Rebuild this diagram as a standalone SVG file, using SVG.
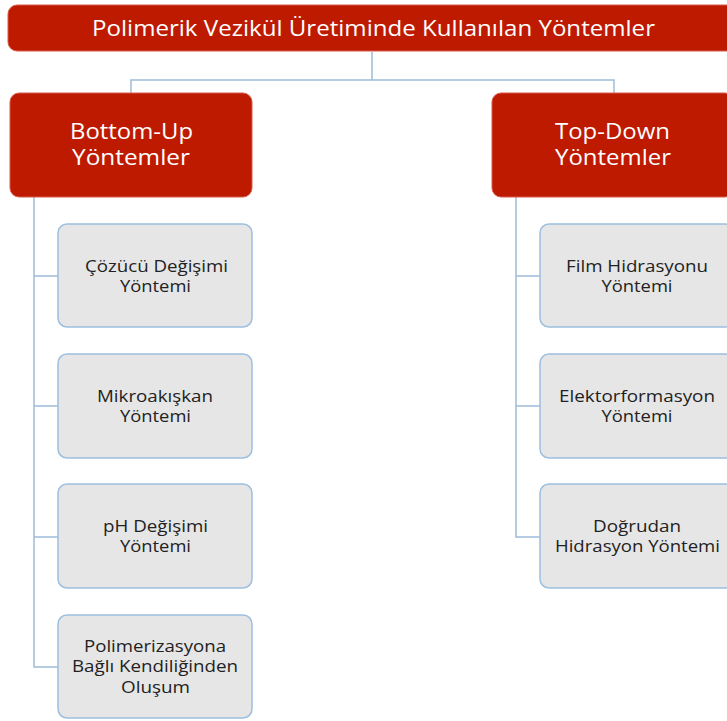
<svg xmlns="http://www.w3.org/2000/svg" width="727" height="721" viewBox="0 0 727 721">
<style>
.hdr{fill:#BE1A00;stroke:#d85a4a;stroke-width:1}
.child{fill:#E6E6E6;stroke:#9DBFDF;stroke-width:1.5}
.conn{fill:none;stroke:#9DBCDA;stroke-width:1.5}
.wt{font-family:"Open Sans",Lato,sans-serif;fill:#FFFFFF;text-anchor:middle}
.bt{font-family:"Open Sans",Lato,sans-serif;fill:#222222;font-size:16px;text-anchor:middle}
</style>
<rect width="727" height="721" fill="#FFFFFF"/>
<g id="connectors">
<path class="conn" d="M372 52V80M131 93V80H614V93"/>
<path class="conn" d="M34 197V667H58M34 276H58M34 406H58M34 537H58"/>
<path class="conn" d="M516 197V537H540M516 276H540M516 406H540"/>
</g>
<g id="title">
<rect class="hdr" x="8" y="5" width="740" height="46" rx="9"/>
<text class="wt" x="373.5" y="36" font-size="22" textLength="563" lengthAdjust="spacingAndGlyphs">Polimerik Vezikül Üretiminde Kullanılan Yöntemler</text>
</g>
<g id="bottomup">
<rect class="hdr" x="10" y="93" width="242" height="104" rx="9"/>
<text class="wt" x="131.5" y="139" font-size="21" textLength="123" lengthAdjust="spacingAndGlyphs">Bottom-Up</text>
<text class="wt" x="131" y="165" font-size="21" textLength="118" lengthAdjust="spacingAndGlyphs">Yöntemler</text>
</g>
<g id="topdown">
<rect class="hdr" x="492" y="93" width="242" height="104" rx="9"/>
<text class="wt" x="612.5" y="139" font-size="21" textLength="115" lengthAdjust="spacingAndGlyphs">Top-Down</text>
<text class="wt" x="613" y="165" font-size="21" textLength="116" lengthAdjust="spacingAndGlyphs">Yöntemler</text>
</g>
<g id="cozucu">
<rect class="child" x="58" y="224" width="194" height="103" rx="9"/>
<text class="bt" x="156.5" y="272" textLength="143" lengthAdjust="spacingAndGlyphs">Çözücü Değişimi</text>
<text class="bt" x="155.5" y="292" textLength="71" lengthAdjust="spacingAndGlyphs">Yöntemi</text>
</g>
<g id="mikro">
<rect class="child" x="58" y="354" width="194" height="104" rx="9"/>
<text class="bt" x="155" y="402" textLength="116" lengthAdjust="spacingAndGlyphs">Mikroakışkan</text>
<text class="bt" x="155.5" y="422" textLength="71" lengthAdjust="spacingAndGlyphs">Yöntemi</text>
</g>
<g id="ph">
<rect class="child" x="58" y="484" width="194" height="104" rx="9"/>
<text class="bt" x="155.5" y="532" textLength="105" lengthAdjust="spacingAndGlyphs">pH Değişimi</text>
<text class="bt" x="155.5" y="552" textLength="71" lengthAdjust="spacingAndGlyphs">Yöntemi</text>
</g>
<g id="polimer">
<rect class="child" x="58" y="615" width="194" height="103" rx="9"/>
<text class="bt" x="155" y="652" textLength="142" lengthAdjust="spacingAndGlyphs">Polimerizasyona</text>
<text class="bt" x="155" y="672" textLength="166" lengthAdjust="spacingAndGlyphs">Bağlı Kendiliğinden</text>
<text class="bt" x="155.5" y="693" textLength="69" lengthAdjust="spacingAndGlyphs">Oluşum</text>
</g>
<g id="film">
<rect class="child" x="540" y="224" width="194" height="103" rx="9"/>
<text class="bt" x="637" y="272" textLength="142" lengthAdjust="spacingAndGlyphs">Film Hidrasyonu</text>
<text class="bt" x="637" y="292" textLength="71" lengthAdjust="spacingAndGlyphs">Yöntemi</text>
</g>
<g id="elektor">
<rect class="child" x="540" y="354" width="194" height="104" rx="9"/>
<text class="bt" x="637" y="402" textLength="156" lengthAdjust="spacingAndGlyphs">Elektorformasyon</text>
<text class="bt" x="637" y="422" textLength="71" lengthAdjust="spacingAndGlyphs">Yöntemi</text>
</g>
<g id="dogrudan">
<rect class="child" x="540" y="484" width="194" height="104" rx="9"/>
<text class="bt" x="637" y="532" textLength="88" lengthAdjust="spacingAndGlyphs">Doğrudan</text>
<text class="bt" x="637.5" y="552" textLength="165" lengthAdjust="spacingAndGlyphs">Hidrasyon Yöntemi</text>
</g>
</svg>
